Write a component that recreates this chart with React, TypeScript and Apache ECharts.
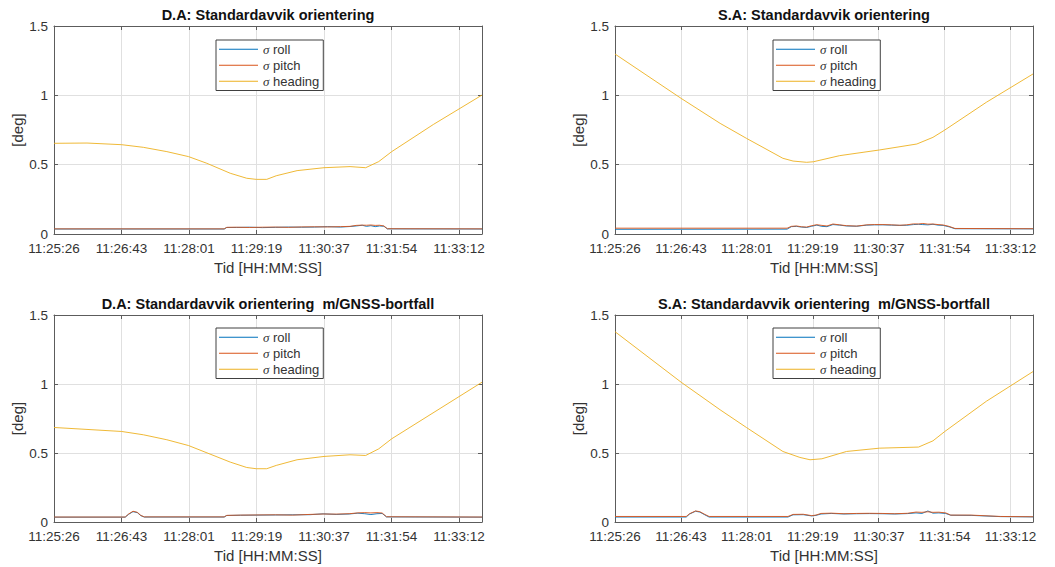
import React, { useEffect, useRef } from "react";
import * as echarts from "echarts";

// ---------- data ----------
const TICK_STEP = 77.76; // seconds between x ticks
const X_MAX = 493; // seconds shown
const TIME_LABELS = ["11:25:26", "11:26:43", "11:28:01", "11:29:19", "11:30:37", "11:31:54", "11:33:12"];
const Y_TICKS = [0, 0.5, 1, 1.5];

const TITLES = [
  "D.A: Standardavvik orientering",
  "S.A: Standardavvik orientering",
  "D.A: Standardavvik orientering  m/GNSS-bortfall",
  "S.A: Standardavvik orientering  m/GNSS-bortfall",
];
const SERIES_NAMES = ["σ roll", "σ pitch", "σ heading"];
const COLORS = ["#0072BD", "#D95319", "#EDB120"];

// Panel 1: D.A
const p1HeadT = [0, 38, 78, 103, 130, 155, 176, 203, 222, 233, 245, 256, 280, 311, 341, 359, 374, 389, 437, 493];
const p1HeadV = [0.654, 0.656, 0.644, 0.625, 0.594, 0.558, 0.51, 0.438, 0.402, 0.394, 0.394, 0.42, 0.457, 0.478, 0.486, 0.478, 0.522, 0.594, 0.79, 1.002];
const p1RpT = [0, 196, 199, 210, 225, 240, 255, 270, 285, 300, 315, 330, 341, 348, 355, 360, 365, 370, 375, 380, 384, 493];
const p1Pitch = [0.037, 0.037, 0.048, 0.049, 0.047, 0.049, 0.05, 0.048, 0.051, 0.052, 0.051, 0.053, 0.055, 0.062, 0.064, 0.063, 0.065, 0.062, 0.063, 0.058, 0.038, 0.037];
const p1Roll = [0.036, 0.036, 0.047, 0.047, 0.049, 0.046, 0.048, 0.05, 0.049, 0.05, 0.053, 0.05, 0.054, 0.058, 0.063, 0.055, 0.06, 0.053, 0.058, 0.056, 0.037, 0.036];

// Panel 2: S.A
const p2HeadT = [0, 78, 124, 155, 198, 210, 226, 234, 265, 312, 356, 375, 389, 438, 493];
const p2HeadV = [1.298, 0.978, 0.798, 0.69, 0.546, 0.526, 0.517, 0.521, 0.565, 0.606, 0.649, 0.697, 0.75, 0.95, 1.154];
const p2RpT = [0, 203, 208, 214, 220, 226, 232, 238, 244, 250, 257, 265, 273, 285, 297, 306, 316, 326, 336, 344, 352, 358, 363, 369, 375, 381, 387, 394, 401, 493];
const p2Pitch = [0.042, 0.042, 0.055, 0.058, 0.052, 0.05, 0.06, 0.067, 0.062, 0.058, 0.072, 0.066, 0.06, 0.057, 0.066, 0.068, 0.068, 0.066, 0.063, 0.066, 0.073, 0.072, 0.076, 0.071, 0.072, 0.068, 0.065, 0.055, 0.04, 0.038];
const p2Roll = [0.034, 0.035, 0.053, 0.055, 0.05, 0.047, 0.056, 0.064, 0.055, 0.053, 0.068, 0.064, 0.058, 0.056, 0.064, 0.066, 0.066, 0.064, 0.062, 0.063, 0.068, 0.07, 0.068, 0.066, 0.07, 0.064, 0.062, 0.052, 0.038, 0.037];

// Panel 3: D.A m/GNSS-bortfall
const p3HeadT = [0, 78, 103, 130, 155, 203, 222, 233, 245, 256, 280, 311, 341, 359, 374, 389, 493];
const p3HeadV = [0.685, 0.656, 0.632, 0.596, 0.554, 0.434, 0.395, 0.386, 0.386, 0.41, 0.451, 0.475, 0.487, 0.482, 0.53, 0.603, 1.013];
const p3RpT = [0, 82, 86, 91, 96, 100, 104, 196, 199, 215, 235, 255, 275, 295, 310, 325, 340, 350, 358, 365, 372, 378, 383, 493];
const p3Pitch = [0.036, 0.036, 0.058, 0.078, 0.07, 0.048, 0.037, 0.037, 0.048, 0.05, 0.051, 0.052, 0.05, 0.055, 0.058, 0.057, 0.06, 0.066, 0.068, 0.066, 0.068, 0.065, 0.038, 0.036];
const p3Roll = [0.035, 0.035, 0.056, 0.075, 0.068, 0.046, 0.036, 0.036, 0.047, 0.049, 0.05, 0.051, 0.052, 0.053, 0.059, 0.055, 0.058, 0.064, 0.06, 0.054, 0.06, 0.062, 0.037, 0.035];

// Panel 4: S.A m/GNSS-bortfall
const p4HeadT = [0, 78, 124, 155, 198, 218, 230, 244, 273, 312, 358, 375, 389, 438, 493];
const p4HeadV = [1.379, 1.013, 0.813, 0.685, 0.511, 0.468, 0.451, 0.458, 0.511, 0.535, 0.543, 0.588, 0.656, 0.875, 1.09];
const p4RpT = [0, 84, 88, 95, 100, 106, 111, 204, 210, 222, 232, 237, 243, 255, 270, 285, 300, 315, 330, 345, 355, 362, 369, 375, 382, 390, 396, 420, 455, 493];
const p4Pitch = [0.04, 0.04, 0.06, 0.08, 0.075, 0.055, 0.04, 0.04, 0.055, 0.056, 0.046, 0.05, 0.062, 0.064, 0.06, 0.062, 0.063, 0.062, 0.06, 0.063, 0.072, 0.07, 0.074, 0.07, 0.071, 0.066, 0.05, 0.05, 0.04, 0.038];
const p4Roll = [0.036, 0.036, 0.058, 0.078, 0.072, 0.052, 0.036, 0.036, 0.052, 0.053, 0.044, 0.048, 0.058, 0.062, 0.058, 0.06, 0.061, 0.06, 0.058, 0.061, 0.066, 0.062, 0.08, 0.064, 0.066, 0.062, 0.049, 0.048, 0.039, 0.037];

const PANELS = [
  { rpT: p1RpT, roll: p1Roll, pitch: p1Pitch, headT: p1HeadT, head: p1HeadV },
  { rpT: p2RpT, roll: p2Roll, pitch: p2Pitch, headT: p2HeadT, head: p2HeadV },
  { rpT: p3RpT, roll: p3Roll, pitch: p3Pitch, headT: p3HeadT, head: p3HeadV },
  { rpT: p4RpT, roll: p4Roll, pitch: p4Pitch, headT: p4HeadT, head: p4HeadV },
];

// ---------- layout ----------
const GRIDS = [
  { left: 54, top: 26, width: 428, height: 208 },
  { left: 615, top: 26, width: 418, height: 208 },
  { left: 54, top: 315, width: 428, height: 207 },
  { left: 615, top: 315, width: 418, height: 207 },
];
const LEGEND_POS = [
  { left: 216, top: 40 },
  { left: 773, top: 40 },
  { left: 216, top: 328 },
  { left: 773, top: 328 },
];

const FONT = "'Liberation Sans', Arial, Helvetica, sans-serif";
const FRAME = "#5c5c5c";
const TEXT = "#333333";
const GRIDLINE = "#e0e0e0";

function zip(t: number[], v: number[]) {
  return t.map((x, i) => [x, v[i]]);
}

function xLabel(v: number) {
  const i = Math.round(v / TICK_STEP);
  if (Math.abs(v - i * TICK_STEP) > 1) return "";
  return TIME_LABELS[i] ?? "";
}

export default function App() {
  const ref = useRef<HTMLDivElement>(null);
  useEffect(() => {
    if (!ref.current) return;
    const chart = echarts.init(ref.current, null, { renderer: "svg" });

    const xAxes: any[] = [];
    const yAxes: any[] = [];
    const series: any[] = [];
    GRIDS.forEach((_, g) => {
      const baseX = {
        type: "value",
        gridIndex: g,
        min: 0,
        max: X_MAX,
        interval: TICK_STEP,
        axisLine: { show: true, onZero: false, lineStyle: { color: FRAME, width: 1 } },
        axisTick: { show: true, inside: true, length: 4, lineStyle: { color: FRAME } },
      };
      xAxes.push({
        ...baseX,
        position: "bottom",
        name: "Tid [HH:MM:SS]",
        nameLocation: "middle",
        nameGap: 26,
        nameTextStyle: { color: TEXT, fontSize: 15, fontFamily: FONT },
        axisLabel: {
          color: TEXT,
          fontSize: 13.5,
          fontFamily: FONT,
          margin: 7,
          showMaxLabel: false,
          formatter: xLabel,
        },
        splitLine: { show: true, showMinLine: false, showMaxLine: false, lineStyle: { color: GRIDLINE, width: 1 } },
      });
      xAxes.push({
        ...baseX,
        position: "top",
        axisLabel: { show: false },
        splitLine: { show: false },
      });
      const baseY = {
        type: "value",
        gridIndex: g,
        min: Y_TICKS[0],
        max: Y_TICKS[Y_TICKS.length - 1],
        interval: 0.5,
        axisLine: { show: true, onZero: false, lineStyle: { color: FRAME, width: 1 } },
        axisTick: { show: true, inside: true, length: 4, lineStyle: { color: FRAME } },
      };
      yAxes.push({
        ...baseY,
        position: "left",
        name: "[deg]",
        nameLocation: "middle",
        nameGap: 29,
        nameTextStyle: { color: TEXT, fontSize: 15, fontFamily: FONT },
        axisLabel: { color: TEXT, fontSize: 13.5, fontFamily: FONT, margin: 6 },
        splitLine: { show: true, showMinLine: false, showMaxLine: false, lineStyle: { color: GRIDLINE, width: 1 } },
      });
      yAxes.push({
        ...baseY,
        position: "right",
        axisLabel: { show: false },
        splitLine: { show: false },
      });

      const p = PANELS[g];
      const datas = [zip(p.rpT, p.roll), zip(p.rpT, p.pitch), zip(p.headT, p.head)];
      datas.forEach((d, k) => {
        series.push({
          type: "line",
          name: SERIES_NAMES[k],
          xAxisIndex: g * 2,
          yAxisIndex: g * 2,
          data: d,
          symbol: "none",
          color: COLORS[k],
          lineStyle: { color: COLORS[k], width: 0.9 },
        });
      });
    });

    const option: any = {
      animation: false,
      backgroundColor: "#ffffff",
      title: TITLES.map((t, g) => ({
        text: t,
        left: GRIDS[g].left + GRIDS[g].width / 2,
        top: g < 2 ? 7 : 296,
        textAlign: "center",
        padding: 0,
        textStyle: { fontSize: 14.5, fontWeight: "bold", color: "#111", fontFamily: FONT },
      })),
      grid: GRIDS.map((gr) => ({ ...gr, containLabel: false })),
      legend: LEGEND_POS.map((pos) => ({
        ...pos,
        orient: "vertical",
        data: SERIES_NAMES,
        icon: "rect",
        itemWidth: 39,
        itemHeight: 1,
        itemGap: 1.5,
        padding: [2, 4, 2, 3],
        backgroundColor: "#ffffff",
        borderColor: "#404040",
        borderWidth: 1,
        borderRadius: 0,
        selectedMode: false,
        formatter: (name: string) => `{s|σ} ${name.replace("σ ", "")}`,
        textStyle: {
          color: TEXT,
          fontSize: 13,
          fontFamily: FONT,
          lineHeight: 14.5,
          rich: {
            s: { fontStyle: "italic", fontFamily: "'Liberation Serif', 'DejaVu Serif', serif", fontSize: 13, color: TEXT },
          },
        },
      })),
      xAxis: xAxes,
      yAxis: yAxes,
      series,
    };
    chart.setOption(option);
    return () => chart.dispose();
  }, []);

  return (
    <div
      ref={ref}
      style={{ position: "fixed", left: 0, top: 0, width: 1055, height: 567, background: "#fff" }}
    />
  );
}
